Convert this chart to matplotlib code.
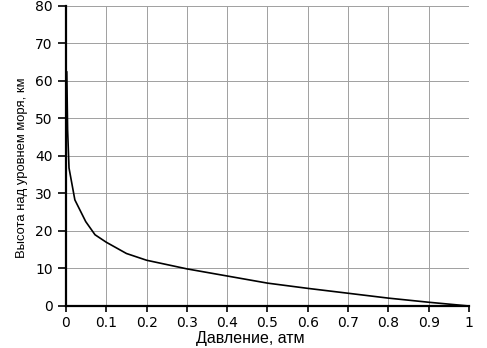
import matplotlib
matplotlib.use('Agg')
import matplotlib.pyplot as plt

plt.rcParams['font.family'] = ['DejaVu Sans']

# pressure (atm) and height (km)
pressure = [0.002, 0.004, 0.0075, 0.022, 0.049, 0.072, 0.1, 0.15, 0.2, 0.3,
            0.4, 0.5, 0.6, 0.7, 0.8, 0.9, 1.0]
height = [62.4, 47.0, 36.8, 28.3, 22.5, 19.0, 17.0, 14.0, 12.2, 9.9,
          8.0, 6.1, 4.7, 3.4, 2.1, 1.0, 0.0]

x_ticks = [0, 0.1, 0.2, 0.3, 0.4, 0.5, 0.6, 0.7, 0.8, 0.9, 1]
x_labels = ['0', '0.1', '0.2', '0.3', '0.4', '0.5', '0.6', '0.7', '0.8', '0.9', '1']
y_ticks = [0, 10, 20, 30, 40, 50, 60, 70, 80]

fig = plt.figure(figsize=(4.87, 3.48), dpi=100)
ax = fig.add_axes([0.1355, 0.1207, 0.8275, 0.8621])
ax.plot(pressure, height, color='black', lw=1.2, clip_on=False, zorder=3)

ax.set_xlim(0, 1)
ax.set_ylim(0, 80)
ax.set_xticks(x_ticks)
ax.set_xticklabels(x_labels)
ax.set_yticks(y_ticks)
ax.grid(True, color='#a0a0a0', lw=0.7)
ax.set_axisbelow(True)

for s in ['top', 'right']:
    ax.spines[s].set_visible(False)
for s in ['left', 'bottom']:
    ax.spines[s].set_linewidth(1.6)
ax.tick_params(axis='x', direction='out', length=4, width=1.2, labelsize=10, pad=3)
ax.tick_params(axis='y', direction='out', length=6, width=1.2, labelsize=10, pad=3.5)

ax.set_xlabel('Давление, атм', family='Liberation Sans', fontsize=11.5)
ax.set_ylabel('Высота над уровнем моря, км', family='Liberation Sans', fontsize=9.4)
ax.xaxis.set_label_coords(0.457, -0.082)
ax.yaxis.set_label_coords(-0.094, 0.46)

fig.savefig('out.png', dpi=100)
